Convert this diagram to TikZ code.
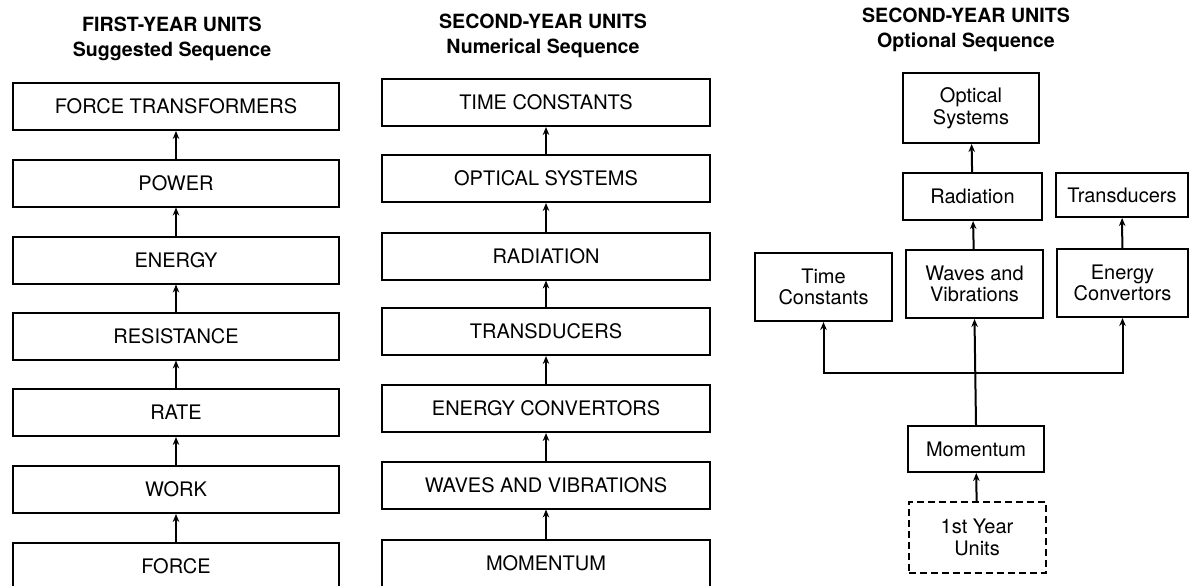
\documentclass[tikz,border=0pt]{standalone}
\usepackage{fontspec}
\setmainfont{TeX Gyre Heros}
\usetikzlibrary{arrows.meta}
\begin{document}
\begin{tikzpicture}[x=1pt,y=-1pt,
  box/.style={draw, line width=2pt, inner sep=0pt, align=center,
    font=\fontsize{20}{21.5}\selectfont},
  colbox/.style={box, minimum height=47pt},
  c1box/.style={colbox, minimum width=326pt},
  c2box/.style={colbox, minimum width=328pt},
  dashbox/.style={box, dash pattern=on 7pt off 4pt},
  arr/.style={line width=2pt, -{Stealth[length=8pt,width=6.5pt]}},
  ttl/.style={align=center, font=\bfseries\fontsize{19.6}{24.5}\selectfont}]
\useasboundingbox (0,0) rectangle (1191,586);
\clip (0,0) rectangle (1191,586);

% titles
\node[ttl] (t1) at (172,39) {FIRST-YEAR UNITS\\Suggested Sequence};
\node[ttl] (t2) at (543,36) {SECOND-YEAR UNITS\\Numerical Sequence};
\node[ttl] (t3) at (966,30) {SECOND-YEAR UNITS\\Optional Sequence};

% column 1
\node[c1box] (a1) at (176,106.5) {FORCE TRANSFORMERS};
\node[c1box] (a2) at (176,183) {POWER};
\node[c1box] (a3) at (176,260) {ENERGY};
\node[c1box] (a4) at (176,336) {RESISTANCE};
\node[c1box] (a5) at (176,412.5) {RATE};
\node[c1box] (a6) at (176,489.5) {WORK};
\node[c1box] (a7) at (176,566.5) {FORCE};
\draw[arr] (a2) -- (a1);
\draw[arr] (a3) -- (a2);
\draw[arr] (a4) -- (a3);
\draw[arr] (a5) -- (a4);
\draw[arr] (a6) -- (a5);
\draw[arr] (a7) -- (a6);

% column 2
\node[c2box] (b1) at (546,102.5) {TIME CONSTANTS};
\node[c2box] (b2) at (546,178.5) {OPTICAL SYSTEMS};
\node[c2box] (b3) at (546,256) {RADIATION};
\node[c2box] (b4) at (546,331.5) {TRANSDUCERS};
\node[c2box] (b5) at (546,408.5) {ENERGY CONVERTORS};
\node[c2box] (b6) at (546,485) {WAVES AND VIBRATIONS};
\node[c2box] (b7) at (546,563) {MOMENTUM};
\draw[arr] (b2) -- (b1);
\draw[arr] (b3) -- (b2);
\draw[arr] (b4) -- (b3);
\draw[arr] (b5) -- (b4);
\draw[arr] (b6) -- (b5);
\draw[arr] (b7) -- (b6);

% column 3
\node[box, minimum width=136pt, minimum height=70pt] (os) at (971,108) {Optical\\Systems};
\node[box, minimum width=139pt, minimum height=47pt] (ra) at (972.5,196.5) {Radiation};
\node[box, minimum width=132pt, minimum height=44pt] (tr) at (1122,195) {Transducers};
\node[box, minimum width=137pt, minimum height=68pt] (tc) at (823.5,287) {Time\\Constants};
\node[box, minimum width=137pt, minimum height=68pt] (wv) at (974.5,284) {Waves and\\Vibrations};
\node[box, minimum width=131pt, minimum height=68pt] (ec) at (1122.5,283) {Energy\\Convertors};
\node[box, minimum width=136pt, minimum height=46pt] (mo) at (976,449) {Momentum};
\node[dashbox, minimum width=137pt, minimum height=71pt] (fy) at (977,537.5) {1st Year\\Units};
\coordinate (bus) at (976,373);

\draw[arr] (ra) -- (os);
\draw[arr] (ec) -- (tr);
\draw[arr] (wv) -- (ra);
\draw[arr] (mo.north) -- (wv.south);
\draw[arr] (bus) -| (tc.south);
\draw[arr] (bus) -| (ec.south);
\draw[arr] (fy) -- (mo);
\end{tikzpicture}
\end{document}
